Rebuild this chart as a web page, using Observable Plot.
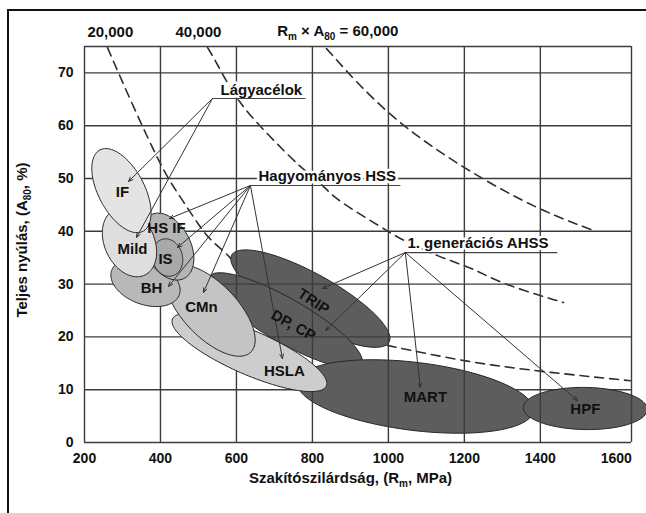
<!DOCTYPE html>
<html><head><meta charset="utf-8">
<script src="https://cdn.jsdelivr.net/npm/d3@7"></script>
<script src="https://cdn.jsdelivr.net/npm/@observablehq/plot@0.6"></script>
<style>
html,body{margin:0;padding:0;background:#fff;overflow:hidden;}
#wrap{position:relative;width:646px;height:513px;overflow:hidden;}
#frame{position:absolute;left:7px;top:9px;width:700px;height:600px;border-left:2px solid #111;border-top:2px solid #111;pointer-events:none;}
</style></head>
<body><div id="wrap"><div id="chart"></div><div id="frame"></div></div>
<script>
// ---- data ----
const steels   = ["IF","Mild","HS IF","IS","BH","CMn","HSLA","TRIP","DP, CP","MART","HPF"];
// ends of the long axis of each region (Rm in MPa, A80 in %)
const rmStart  = [240.5, 278.4, 374.0, 405.5, 271.6, 425.5, 431.6, 587.6, 528.4, 760.3, 1355.3];
const aStart   = [55.4,  44.05, 43.1,  38.5,  32.6,  32.9,  23.4,  35.5,  31.4,  11.46, 6.63];
const rmEnd    = [354.0, 358.4, 462.9, 431.3, 449.5, 637.6, 836.8, 1001.8, 929.5, 1381.8, 1681.6];
const aEnd     = [40.0,  31.7,  31.1,  31.55, 27.97, 17.1,  10.7,  19.0,  14.8,  5.97,  6.25];
const thickness= [0.50,  0.69,  0.64,  0.79,  0.61,  0.466, 0.262, 0.278, 0.25,  0.286, 0.34];
// label anchor of each region
const labelRm  = [300, 326.3, 415.8, 413.2, 376.3, 507.9, 726.3, 802.6, 750, 1097.4, 1518.4];
const labelA   = [47.35, 36.55, 40.53, 34.66, 29.17, 25.57, 13.45, 26.7, 22.16, 8.52, 6.25];

// Rm x A80 iso-lines, as read (segment index for hidden gaps)
const dash20Rm  = [260.5, 321, 382, 418, 453, 505, 532, 571, 584, 997, 1208, 1418, 1637];
const dash20A   = [74.8, 64.8, 55.3, 50.2, 46.4, 40.7, 38.3, 36, 34.9, 18.4, 15.2, 13.3, 11.7];
const dash20Seg = [0,0,0,0,0,0,0,0,0,1,1,1,1];
const dash40Rm  = [524, 545, 603, 690, 768, 829, 855, 953, 995, 1024, 1137, 1224, 1295, 1461];
const dash40A   = [74.8, 72.3, 64.4, 57.8, 52.1, 48.7, 46.4, 42, 40.2, 38.8, 35, 33, 30.1, 26.5];
const dash60Rm  = [837, 995, 1205, 1400, 1539];
const dash60A   = [74.6, 61.9, 51.5, 43.9, 40.2];
const isoLabels = ["20,000", "40,000"];
const isoLabelRm = [268, 500];

// group callouts
const groups     = ["Lágyacélok", "Hagyományos HSS", "1. generációs AHSS"];
const groupRm    = [558, 658, 1050];
const groupA     = [66.7, 50.4, 37.7];
const originRm   = [536.8, 636.8, 1044.7];
const originA    = [65.15, 48.67, 35.98];
const underEndRm = [781.6, 1031.6, 1444.7];
const pointerGroup = [0, 0, 1, 1, 1, 1, 1, 2, 2, 2, 2];
const pointerRm    = [315.8, 336.8, 423.7, 444.7, 421.0, 513.2, 721.0, 826.3, 834.2, 1084.2, 1497.4];
const pointerA     = [49.43, 38.83, 42.42, 36.93, 29.55, 28.41, 15.9, 29.17, 21.2, 10.42, 7.95];

const xTicks = [200, 400, 600, 800, 1000, 1200, 1400, 1600];
const yTicks = [0, 10, 20, 30, 40, 50, 60, 70];
const xGrid  = [200, 400, 600, 800, 1000, 1200, 1400, 1640];
const yGrid  = [0, 10, 20, 30, 40, 50, 60, 70, 75];

// ---- styles ----
const FONT = "'Liberation Sans', Arial, Helvetica, sans-serif";
const W = 646, H = 513, mL = 84, mR = 15, mT = 46, mB = 71;
const xDomain = [200, 1640], yDomain = [0, 75];
const fills = {"IF":"#e4e4e4","Mild":"#dedede","HS IF":"#b4b4b4","IS":"#a9a9a9","BH":"#b8b8b8",
  "CMn":"#c4c4c4","HSLA":"#cdcdcd","TRIP":"#5d5d5d","DP, CP":"#5d5d5d","MART":"#5d5d5d","HPF":"#5d5d5d"};
const rotations = {"TRIP": 33, "DP, CP": 29};

const sx = d3.scaleLinear(xDomain, [mL, W - mR]);
const sy = d3.scaleLinear(yDomain, [H - mB, mT]);

function ellipseMark(name) {
  const i = steels.indexOf(name);
  const x1 = sx(rmStart[i]), y1 = sy(aStart[i]), x2 = sx(rmEnd[i]), y2 = sy(aEnd[i]);
  const cx = (x1 + x2) / 2, cy = (y1 + y2) / 2;
  const a = Math.hypot(x2 - x1, y2 - y1) / 2, th = Math.atan2(y2 - y1, x2 - x1), b = a * thickness[i];
  const pts = d3.range(120).map(k => {
    const t = 2 * Math.PI * k / 120;
    const px = cx + a * Math.cos(t) * Math.cos(th) - b * Math.sin(t) * Math.sin(th);
    const py = cy + a * Math.cos(t) * Math.sin(th) + b * Math.sin(t) * Math.cos(th);
    return {rm: sx.invert(px), a: sy.invert(py)};
  });
  return Plot.line(pts, {x: "rm", y: "a", curve: "linear-closed", fill: fills[name], stroke: "#262626", strokeWidth: 1});
}

const dash20 = dash20Rm.map((r, i) => ({rm: r, a: dash20A[i], seg: dash20Seg[i]}));
const dash40 = dash40Rm.map((r, i) => ({rm: r, a: dash40A[i]}));
const dash60 = dash60Rm.map((r, i) => ({rm: r, a: dash60A[i]}));
const dashStyle = {x: "rm", y: "a", curve: "basis", stroke: "#2e2e2e", strokeWidth: 1.6, strokeDasharray: "9,6"};
const gridStyle = {stroke: "#3c3c3c", strokeWidth: 1.4};

const pointers = pointerRm.map((r, i) => ({
  x1: originRm[pointerGroup[i]], y1: originA[pointerGroup[i]], x2: r, y2: pointerA[i]}));

const plainLabels = steels.filter(s => !(s in rotations));
const marks = [
  Plot.line(dash20, {...dashStyle, z: "seg"}),
  Plot.line(dash40, dashStyle),
  Plot.line(dash60, dashStyle),
  ellipseMark("TRIP"),
  ellipseMark("DP, CP"),
  Plot.ruleY(yGrid, gridStyle),
  ellipseMark("MART"),
  ellipseMark("HPF"),
  Plot.ruleX(xGrid, gridStyle),
  ellipseMark("HSLA"),
  ellipseMark("CMn"),
  ellipseMark("BH"),
  ellipseMark("HS IF"),
  ellipseMark("IS"),
  ellipseMark("Mild"),
  ellipseMark("IF"),
  Plot.text(groups, {x: groupRm, y: groupA, text: d => d, textAnchor: "start", fontSize: 15, fontWeight: "bold",
    fill: "#111", stroke: "white", strokeWidth: 5}),
  Plot.link(groups, {x1: originRm, x2: underEndRm, y1: originA, y2: originA, stroke: "#444", strokeWidth: 1.2}),
  Plot.arrow(pointers, {x1: "x1", y1: "y1", x2: "x2", y2: "y2", stroke: "#333", strokeWidth: 1, headLength: 7, headAngle: 45}),
  Plot.text(plainLabels, {x: plainLabels.map(s => labelRm[steels.indexOf(s)]), y: plainLabels.map(s => labelA[steels.indexOf(s)]),
    text: d => d, fontSize: 15, fontWeight: "bold", fill: "#111"}),
  ...Object.keys(rotations).map(s => Plot.text([s], {x: [labelRm[steels.indexOf(s)]], y: [labelA[steels.indexOf(s)]],
    text: d => d, rotate: rotations[s], fontSize: 15, fontWeight: "bold", fill: "#111"})),
  Plot.text(isoLabels, {x: isoLabelRm, y: [77.8, 77.8], text: d => d, fontSize: 15, fontWeight: "bold", fill: "#111"})
];

const plot = Plot.plot({
  width: W, height: H,
  marginLeft: mL, marginRight: mR, marginTop: mT, marginBottom: mB,
  style: {fontFamily: FONT, fontSize: "14px", fontWeight: "bold", color: "#111", background: "transparent"},
  x: {domain: xDomain, ticks: xTicks, tickSize: 0, tickPadding: 11, tickFormat: d => String(d), label: null},
  y: {domain: yDomain, ticks: yTicks, tickSize: 0, tickPadding: 11, tickFormat: d => String(d), label: null},
  marks
});
document.getElementById("chart").appendChild(plot);

// texts with subscripts
const svg = d3.select(plot);
const X = plot.scale("x"), Y = plot.scale("y");
function subText(x, y, parts, rotate = 0) {
  const t = svg.append("text").attr("text-anchor", "middle").attr("font-family", FONT)
    .attr("font-weight", "bold").attr("font-size", 15).attr("fill", "#111")
    .attr("transform", `translate(${x},${y}) rotate(${rotate})`);
  let pend = 0;
  parts.forEach(([s, sub]) => {
    const ts = t.append("tspan").text(s);
    if (sub) { ts.attr("font-size", 10).attr("dy", 4); pend = -4; }
    else if (pend) { ts.attr("dy", pend); pend = 0; }
  });
}
subText(X.apply(868), Y.apply(77.8) + 5, [["R"], ["m", true], [" × A"], ["80", true], [" = 60,000"]]);
subText((mL + W - mR) / 2 - 7, 483, [["Szakítószilárdság, (R"], ["m", true], [", MPa)"]]);
subText(27, 240, [["Teljes nyúlás, (A"], ["80", true], [", %)"]], -90);
</script>
</body></html>
